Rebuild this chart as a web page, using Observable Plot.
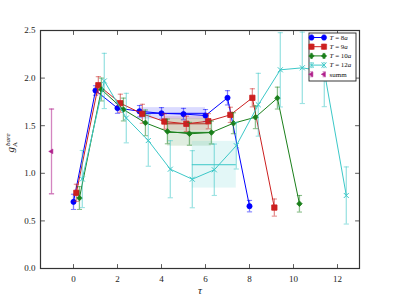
<!DOCTYPE html>
<html><head><meta charset="utf-8">
<script src="https://cdn.jsdelivr.net/npm/d3@7"></script>
<script src="https://cdn.jsdelivr.net/npm/@observablehq/plot@0.6"></script>
<style>
body{margin:0;background:#fff;}
#wrap{position:relative;width:399px;height:299px;}
</style></head><body><div id="wrap"></div>
<script>
// ---- data ----
const seriesNames = ["T = 8a", "T = 9a", "T = 10a", "T = 12a"];
const tauShift = [0, 0.13, 0.27, 0.4];
const tau8  = [0,1,2,3,4,5,6,7,8];
const g8    = [0.70,1.87,1.685,1.652,1.63,1.622,1.607,1.793,0.655];
const e8    = [0.08,0.05,0.055,0.06,0.06,0.06,0.063,0.075,0.06];
const tau9  = [0,1,2,3,4,5,6,7,8,9];
const g9    = [0.795,1.925,1.736,1.625,1.544,1.52,1.547,1.614,1.793,0.64];
const e9    = [0.09,0.09,0.095,0.1,0.08,0.08,0.08,0.08,0.095,0.09];
const tau10 = [0,1,2,3,4,5,6,7,8,9,10];
const g10   = [0.74,1.88,1.67,1.53,1.44,1.415,1.428,1.526,1.589,1.79,0.68];
const e10   = [0.12,0.12,0.12,0.135,0.13,0.12,0.12,0.11,0.12,0.115,0.087];
const tau12 = [0,1,2,3,4,5,6,7,8,9,10,11,12];
const g12   = [0.94,1.97,1.58,1.344,1.043,0.938,1.037,1.29,1.72,2.087,2.108,2.07,0.767];
const e12   = [0.30,0.29,0.26,0.27,0.30,0.30,0.27,0.245,0.33,0.39,0.375,0.37,0.30];
const summTau = [-1];
const summG   = [1.23];
const summErr = [0.445];
const fitLo  = [3,4,4,5];
const fitHi  = [6,6,6,7];
const fitVal = [1.63,1.52,1.43,1.09];
const fitErr = [0.06,0.075,0.145,0.245];
const xTicks = [0,2,4,6,8,10,12];
const yTicks = [0,0.5,1,1.5,2,2.5];
const xDomain = [-1.5, 13];
const yDomain = [0, 2.5];

// ---- styles ----
const colors = ["#0000ff", "#cc2020", "#1a7f1a", "#3cc8c8"];
const symbols = ["circle", "square", "diamond2", "times"];
const radii = [2.6, 3.0, 2.5, 2.4];
const summColor = "#b0208c";

const taus = [tau8, tau9, tau10, tau12];
const gs = [g8, g9, g10, g12];
const es = [e8, e9, e10, e12];

const cap = {draw(ctx, size) { const w = Math.sqrt(size / Math.PI); ctx.moveTo(-w, 0); ctx.lineTo(w, 0); }};
const tickShape = {draw(ctx, l) { ctx.moveTo(0, 0); ctx.lineTo(0, -l); }};

const marks = [];
const fits = fitLo.map((lo, i) => ({i, x1: lo + tauShift[i], x2: fitHi[i] + tauShift[i], c: fitVal[i], e: fitErr[i]}));
fits.forEach(f => {
  marks.push(Plot.rect([f], {x1: "x1", x2: "x2", y1: d => d.c - d.e, y2: d => d.c + d.e, fill: colors[f.i], fillOpacity: 0.14}));
  marks.push(Plot.ruleY([f], {y: "c", x1: "x1", x2: "x2", stroke: colors[f.i], strokeWidth: 1}));
});
gs.forEach((g, i) => {
  const rows = g.map((v, k) => ({x: taus[i][k] + tauShift[i], y: v, e: es[i][k]}));
  marks.push(Plot.ruleX(rows, {x: "x", y1: d => d.y - d.e, y2: d => d.y + d.e, stroke: colors[i], strokeOpacity: 0.5, strokeWidth: 1.3}));
  marks.push(Plot.dot(rows, {x: "x", y: d => d.y - d.e, symbol: cap, r: 2.6, stroke: colors[i], strokeOpacity: 0.5, strokeWidth: 1.1}));
  marks.push(Plot.dot(rows, {x: "x", y: d => d.y + d.e, symbol: cap, r: 2.6, stroke: colors[i], strokeOpacity: 0.5, strokeWidth: 1.1}));
  marks.push(Plot.line(rows, {x: "x", y: "y", stroke: colors[i], strokeWidth: 1}));
  if (symbols[i] === "times")
    marks.push(Plot.dot(rows, {x: "x", y: "y", symbol: "times", r: radii[i], stroke: colors[i], strokeWidth: 1}));
  else
    marks.push(Plot.dot(rows, {x: "x", y: "y", symbol: symbols[i], r: radii[i], fill: colors[i], stroke: colors[i], strokeWidth: 0.8}));
});
const summRows = summTau.map((t, k) => ({x: t, y: summG[k], e: summErr[k]}));
marks.push(Plot.ruleX(summRows, {x: "x", y1: d => d.y - d.e, y2: d => d.y + d.e, stroke: summColor, strokeOpacity: 0.55, strokeWidth: 1.3}));
marks.push(Plot.dot(summRows, {x: "x", y: d => d.y - d.e, symbol: cap, r: 2.6, stroke: summColor, strokeOpacity: 0.55}));
marks.push(Plot.dot(summRows, {x: "x", y: d => d.y + d.e, symbol: cap, r: 2.6, stroke: summColor, strokeOpacity: 0.55}));
marks.push(Plot.dot(summRows, {x: "x", y: "y", symbol: "triangle", rotate: -90, r: 1.8, fill: summColor, stroke: summColor, strokeWidth: 0.5}));

marks.push(Plot.frame({stroke: "#333", strokeWidth: 1.2}));
const tk = {length: 4, anchor: "start", shape: tickShape, stroke: "#333", strokeWidth: 0.8};
marks.push(Plot.vector(xTicks, {x: d => d, y: () => yDomain[0], rotate: 0, ...tk}));
marks.push(Plot.vector(xTicks, {x: d => d, y: () => yDomain[1], rotate: 180, ...tk}));
marks.push(Plot.vector(yTicks, {y: d => d, x: () => xDomain[0], rotate: 90, ...tk}));
marks.push(Plot.vector(yTicks, {y: d => d, x: () => xDomain[1], rotate: -90, ...tk}));
marks.push(Plot.axisX(xTicks, {tickSize: 0, tickPadding: 7, label: null, fill: "#222"}));
marks.push(Plot.axisY(yTicks, {tickSize: 0, tickPadding: 5, tickFormat: d => d.toFixed(1), label: null, fill: "#222"}));

const chart = Plot.plot({
  width: 399, height: 299,
  marginLeft: 40, marginRight: 40, marginTop: 30, marginBottom: 31,
  x: {domain: xDomain},
  y: {domain: yDomain},
  style: {fontFamily: "Liberation Serif, DejaVu Serif, serif", fontSize: "9px", background: "white", color: "#222"},
  marks
});
document.getElementById("wrap").appendChild(chart);

const svg = d3.select(chart);
svg.append("text").attr("x", 200).attr("y", 294).attr("text-anchor", "middle")
  .attr("font-family", "Liberation Serif, serif").attr("font-style", "italic").attr("font-size", 11).attr("fill", "#222").text("τ");
const yl = svg.append("text").attr("transform", "translate(14,143) rotate(-90)").attr("text-anchor", "middle")
  .attr("font-family", "Liberation Serif, serif").attr("font-size", 11).attr("fill", "#222");
yl.append("tspan").attr("font-style", "italic").text("g");
yl.append("tspan").attr("font-size", 7).attr("dy", 2.5).text("A");
yl.append("tspan").attr("font-size", 7).attr("font-style", "italic").attr("dy", -7).attr("dx", -4).text("bare");

// legend
const lg = svg.append("g").attr("transform", "translate(309,33)").attr("text-anchor", "start");
lg.append("rect").attr("width", 47).attr("height", 48).attr("fill", "white").attr("stroke", "#222").attr("stroke-width", 0.9);
const legendSyms = [d3.symbolCircle, d3.symbolSquare, d3.symbolDiamond2, d3.symbolTimes];
const entries = seriesNames.map((n, i) => ({n, c: colors[i], sym: legendSyms[i], r: radii[i], line: true}))
  .concat([{n: "summ", c: summColor, sym: d3.symbolTriangle, r: 1.8, line: false, tri: true}]);
entries.forEach((en, i) => {
  const y = 4.5 + i * 9.2;
  const row = lg.append("g").attr("transform", `translate(0,${y})`);
  [2.5, 15].forEach(x => {
    row.append("line").attr("x1", x).attr("x2", x).attr("y1", -2.5).attr("y2", 2.5).attr("stroke", en.c).attr("stroke-opacity", 0.5);
    row.append("line").attr("x1", x - 1.5).attr("x2", x + 1.5).attr("y1", -2.5).attr("y2", -2.5).attr("stroke", en.c).attr("stroke-opacity", 0.5);
    row.append("line").attr("x1", x - 1.5).attr("x2", x + 1.5).attr("y1", 2.5).attr("y2", 2.5).attr("stroke", en.c).attr("stroke-opacity", 0.5);
  });
  if (en.line) row.append("line").attr("x1", 2.5).attr("x2", 15).attr("y1", 0).attr("y2", 0).attr("stroke", en.c).attr("stroke-width", 1);
  [2.5, 15].forEach(x => {
    const p = row.append("path").attr("d", d3.symbol(en.sym, en.r * en.r * Math.PI)())
      .attr("transform", `translate(${x},0)` + (en.tri ? " rotate(-90)" : ""));
    if (en.sym === d3.symbolTimes) p.attr("fill", "none").attr("stroke", en.c);
    else p.attr("fill", en.c).attr("stroke", en.c).attr("stroke-width", 0.5);
  });
  const t = row.append("text").attr("x", 20.5).attr("y", 2.3).attr("text-anchor", "start")
    .style("font-family", "Liberation Serif, serif").style("font-size", "7px").attr("fill", "#111")
    .style("white-space", "pre");
  if (en.line) {
    const m = en.n.match(/^T = (\d+)a$/);
    t.append("tspan").style("font-style", "italic").text("T");
    t.append("tspan").text(" = " + m[1]);
    t.append("tspan").style("font-style", "italic").text("a");
  } else {
    t.text(en.n);
  }
});
</script></body></html>
